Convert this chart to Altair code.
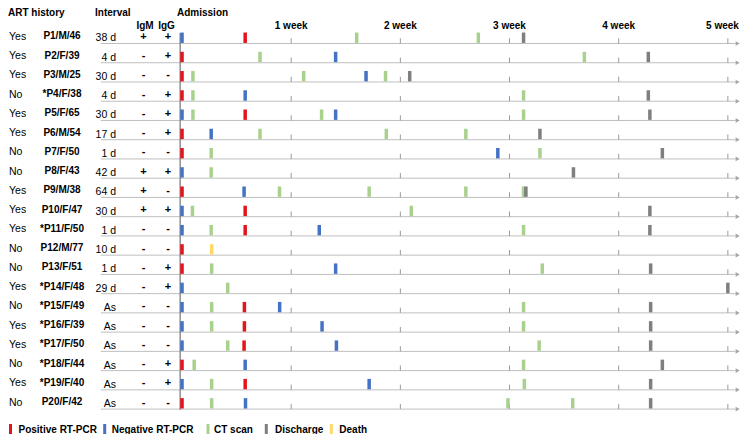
import altair as alt
import pandas as pd

# ---------------- data ----------------
art = ["Yes", "Yes", "Yes", "No", "Yes", "Yes", "No", "No", "Yes", "Yes",
       "Yes", "No", "No", "Yes", "No", "Yes", "Yes", "No", "Yes", "No"]
ids = ["P1/M/46", "P2/F/39", "P3/M/25", "*P4/F/38", "P5/F/65", "P6/M/54",
       "P7/F/50", "P8/F/43", "P9/M/38", "P10/F/47", "*P11/F/50", "P12/M/77",
       "P13/F/51", "*P14/F/48", "*P15/F/49", "*P16/F/39", "*P17/F/50",
       "*P18/F/44", "*P19/F/40", "P20/F/42"]
intervals = ["38 d", "4 d", "30 d", "4 d", "30 d", "17 d", "1 d", "42 d", "64 d",
             "30 d", "1 d", "10 d", "1 d", "29 d", "As", "As", "As", "As", "As", "As"]
igm = ["+", "-", "-", "-", "-", "-", "-", "+", "+", "+",
       "-", "-", "-", "-", "-", "-", "-", "-", "-", "-"]
igg = ["+", "+", "-", "+", "+", "+", "-", "+", "-", "+",
       "-", "-", "+", "+", "-", "-", "-", "+", "+", "-"]

# event days after admission, one list per patient (P1..P20)
pos_pcr = [[4.05], [0], [0], [0], [4.05], [0], [0], [], [0], [4.05],
           [4.05], [0], [0], [], [4.0], [4.0], [3.98], [0], [4.05], [0]]
neg_pcr = [[0], [9.85], [11.8], [4.05], [0, 9.85], [1.87], [20.25], [0], [3.98], [0],
           [0, 8.8], [], [9.85], [0], [0, 6.26], [0, 8.98], [0, 9.9], [4.05], [0, 12.0], [4.07]]
ct_scan = [[11.2, 19.0], [5.0, 25.8], [0.7, 7.8, 13.05], [0.7, 21.9], [0.7, 8.95, 21.9],
           [5.0, 13.1, 18.2], [1.87, 22.95], [1.87], [6.25, 12.0, 18.2, 21.9], [0.67, 14.7],
           [1.87, 21.9], [], [1.9, 23.1], [2.93], [1.9, 21.9],
           [1.9, 21.9], [2.93, 22.9], [0.78, 21.9], [1.9, 21.95], [1.9, 20.9, 25.05]]
discharge = [[21.9], [29.9], [14.6], [29.9], [30.0], [22.95], [30.8], [25.1], [22.05], [30.0],
             [30.0], [], [30.05], [35.0], [30.05], [30.05], [30.05], [30.8], [30.05], [30.05]]
death = [[], [], [], [], [], [], [], [], [], [],
         [], [1.9], [], [], [], [], [], [], [], []]

weeks = [7, 14, 21, 28, 35]
week_labels = ["1 week", "2 week", "3 week", "4 week", "5 week"]

event_types = ["Positive RT-PCR", "Negative RT-PCR", "CT scan", "Discharge", "Death"]
event_colors = ["#E3141C", "#4472C4", "#A9D18E", "#7F7F7F", "#FFD966"]

FONT = "Liberation Sans"

# ---------------- tables ----------------
rows_df = pd.DataFrame({"row": list(range(len(ids))), "art": art, "pid": ids,
                        "interval": intervals, "igm": igm, "igg": igg})

ev = []
for t, lists in zip(event_types, [pos_pcr, neg_pcr, ct_scan, discharge, death]):
    for i, days in enumerate(lists):
        for d in days:
            ev.append({"row": i, "day": d, "type": t, "top": i - 0.57, "base": i - 0.03})
events_df = pd.DataFrame(ev)

ticks_df = pd.DataFrame([{"row": i, "week": w, "top": i - 0.27} for i in range(len(ids)) for w in weeks])
weeks_df = pd.DataFrame({"week": weeks, "label": week_labels})

# ---------------- scales ----------------
x_scale = alt.Scale(domain=[-10.838, 35.715], nice=False, zero=False)
y_scale = alt.Scale(domain=[-1.8449, 20.294], nice=False, zero=False, reverse=True)


def X(field):
    return alt.X(field, type="quantitative", scale=x_scale, axis=None)


def Y(field):
    return alt.Y(field, type="quantitative", scale=y_scale, axis=None)


base_rows = alt.Chart(rows_df)

row_lines = base_rows.mark_rule(color="#BFBFBF", strokeWidth=1).encode(
    x=alt.X(datum=-5.21, type="quantitative", scale=x_scale, axis=None),
    x2=alt.X2(datum=35.5),
    y=Y("row"),
)

arrows = base_rows.mark_point(shape="triangle-right", filled=True, size=22,
                              color="#A6A6A6", opacity=1).encode(
    x=alt.X(datum=35.63, type="quantitative", scale=x_scale, axis=None),
    y=Y("row"),
)

week_ticks = alt.Chart(ticks_df).mark_rule(color="#9A9A9A", strokeWidth=1).encode(
    x=X("week"), y=Y("top"), y2=alt.Y2("row"),
)

admission_line = alt.Chart(pd.DataFrame({"a": [0]})).mark_rule(color="#7F7F7F", strokeWidth=1.3).encode(
    x=alt.X(datum=-0.12, type="quantitative", scale=x_scale, axis=None),
    y=alt.Y(datum=-0.55, type="quantitative", scale=y_scale, axis=None),
    y2=alt.Y2(datum=19.03),
)

events = alt.Chart(events_df).mark_bar(width=3.5).encode(
    x=X("day"),
    y=Y("top"),
    y2=alt.Y2("base"),
    color=alt.Color("type:N", scale=alt.Scale(domain=event_types, range=event_colors), legend=None),
)

art_text = base_rows.mark_text(align="left", baseline="middle", dy=-6.5, fontSize=10.5,
                               font=FONT, color="black").encode(
    x=alt.value(1), y=Y("row"), text="art")
id_text = base_rows.mark_text(align="center", baseline="middle", dy=-7, fontSize=10,
                              fontWeight="bold", font=FONT, color="black").encode(
    x=alt.value(54), y=Y("row"), text="pid")
int_text = base_rows.mark_text(align="right", baseline="middle", dy=-5, fontSize=10.5,
                               font=FONT, color="black").encode(
    x=alt.value(108), y=Y("row"), text="interval")
igm_text = base_rows.mark_text(align="center", baseline="middle", dy=-6.5, fontSize=11,
                               fontWeight="bold", font=FONT, color="black").encode(
    x=alt.value(135.5), y=Y("row"), text="igm")
igg_text = base_rows.mark_text(align="center", baseline="middle", dy=-6.5, fontSize=11,
                               fontWeight="bold", font=FONT, color="black").encode(
    x=alt.value(160), y=Y("row"), text="igg")


def header(txt, xpix, ypix, align="left"):
    return alt.Chart(pd.DataFrame({"t": [txt]})).mark_text(
        align=align, baseline="middle", fontSize=10, fontWeight="bold", font=FONT, color="black"
    ).encode(x=alt.value(xpix), y=alt.value(ypix), text="t")


headers = [
    header("ART history", 0, 5),
    header("Interval", 87, 5),
    header("Admission", 169, 5),
    header("IgM", 137, 17.5, "center"),
    header("IgG", 158.5, 17.5, "center"),
]

week_text = alt.Chart(weeks_df).transform_filter("datum.week < 35").mark_text(
    align="center", baseline="middle", fontSize=10, fontWeight="bold", font=FONT, color="black"
).encode(x=X("week"), y=alt.value(17.5), text="label")
week_text_last = alt.Chart(weeks_df).transform_filter("datum.week >= 35").mark_text(
    align="right", baseline="middle", dx=11, fontSize=10, fontWeight="bold", font=FONT, color="black"
).encode(x=X("week"), y=alt.value(17.5), text="label")


# ---------------- legend (drawn as a row of swatches under the rows) ----------------
def legend_item(label, color, bar_x, text_x):
    df = pd.DataFrame({"t": [label]})
    sw = alt.Chart(df).mark_rule(color=color, strokeWidth=3).encode(
        x=alt.value(bar_x), y=alt.value(416), y2=alt.value(426))
    tx = alt.Chart(df).mark_text(align="left", baseline="middle", fontSize=10, fontWeight="bold",
                                 font=FONT, color="black").encode(
        x=alt.value(text_x), y=alt.value(421.5), text="t")
    return [sw, tx]


legend_layers = []
for lab, col, bx, tx in zip(event_types, event_colors,
                            [2.5, 96.7, 200, 258.3, 323.3],
                            [10.5, 103.7, 206, 267, 331.3]):
    legend_layers += legend_item(lab, col, bx, tx)

chart = alt.layer(
    row_lines, week_ticks, arrows, admission_line, events,
    art_text, id_text, int_text, igm_text, igg_text,
    *headers, week_text, week_text_last, *legend_layers,
).properties(
    width=736, height=426, padding=0,
    autosize=alt.AutoSizeParams(type="none"),
).configure_view(stroke=None)

chart.save("out.html", embed_options={"renderer": "svg", "actions": False})
